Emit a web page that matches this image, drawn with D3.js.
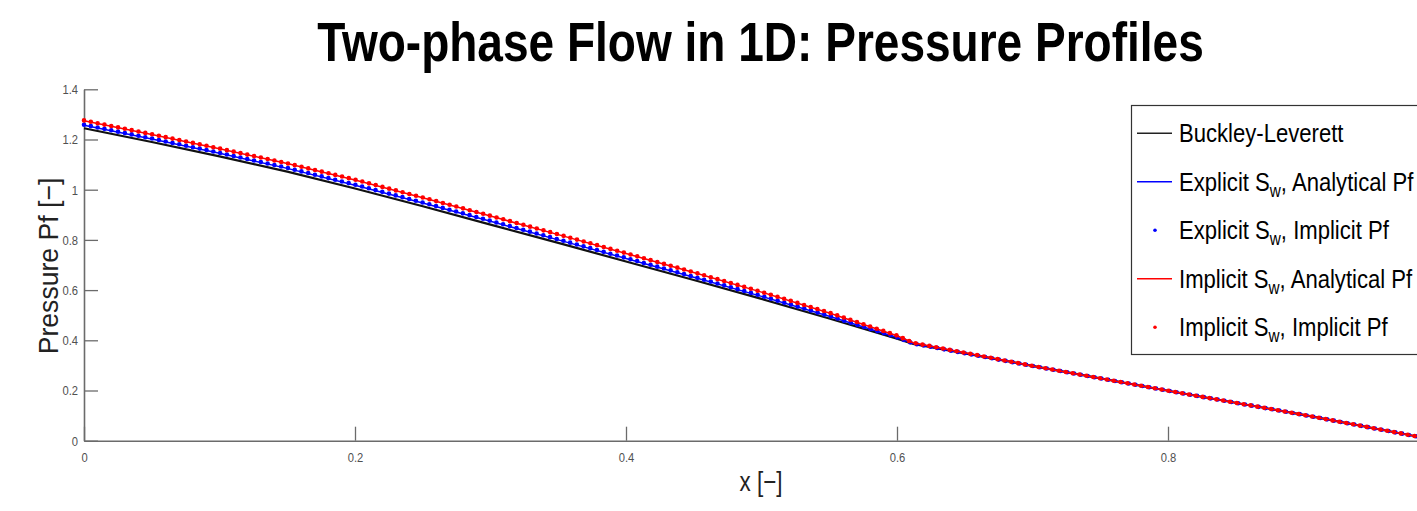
<!DOCTYPE html>
<html><head><meta charset="utf-8">
<script src="https://cdn.jsdelivr.net/npm/d3@7"></script>
<style>body{margin:0;background:#fff;overflow:hidden}</style>
</head><body>
<svg id="c" width="1417" height="511"></svg>
<script>
// ---- data ----
const xValues = [0, 0.05, 0.1, 0.15, 0.2, 0.25, 0.3, 0.35, 0.4, 0.45, 0.5, 0.55, 0.6, 0.612, 0.7, 0.8, 0.9, 1.0];
const buckleyLeverett   = [1.245,1.190,1.133,1.072,1.005,0.934,0.861,0.788,0.714,0.640,0.565,0.487,0.406,0.386,0.298,0.199,0.103,0.0];
const explicitAnalytical= [1.257,1.202,1.145,1.085,1.018,0.947,0.874,0.800,0.726,0.651,0.575,0.496,0.411,0.387,0.298,0.199,0.103,0.0];
const explicitImplicit  = [1.259,1.204,1.147,1.087,1.020,0.949,0.876,0.802,0.728,0.653,0.577,0.497,0.412,0.387,0.298,0.199,0.103,0.0];
const implicitAnalytical= [1.275,1.220,1.163,1.104,1.039,0.968,0.895,0.821,0.746,0.670,0.592,0.509,0.418,0.390,0.298,0.199,0.103,0.0];
const implicitImplicit  = [1.276,1.221,1.164,1.105,1.040,0.969,0.896,0.822,0.747,0.671,0.593,0.510,0.419,0.390,0.298,0.199,0.103,0.0];
const xTicks = [0, 0.2, 0.4, 0.6, 0.8];
const yTicks = [0, 0.2, 0.4, 0.6, 0.8, 1, 1.2, 1.4];
const xTickLabels = ["0", "0.2", "0.4", "0.6", "0.8"];
const yTickLabels = ["0", "0.2", "0.4", "0.6", "0.8", "1", "1.2", "1.4"];
const titleText = "Two-phase Flow in 1D: Pressure Profiles";
const xLabel = "x [\u2212]";
const yLabel = "Pressure Pf [\u2212]";
const legendItems = [
  {main: "Buckley-Leverett", sub: null, rest: null, type: "line", color: "#222"},
  {main: "Explicit S", sub: "w", rest: ", Analytical Pf", type: "line", color: "#0000ff"},
  {main: "Explicit S", sub: "w", rest: ", Implicit Pf", type: "dot", color: "#0000ff"},
  {main: "Implicit S", sub: "w", rest: ", Analytical Pf", type: "line", color: "#ff0000"},
  {main: "Implicit S", sub: "w", rest: ", Implicit Pf", type: "dot", color: "#ff0000"}
];

const FONT = "'Liberation Sans',Arial,Helvetica,sans-serif";
const svg = d3.select("#c");
const x = d3.scaleLinear().domain([0, 1]).range([84, 1439]);
const y = d3.scaleLinear().domain([0, 1.4]).range([440.7, 89.3]);

function narrowText(parent, px, py, sx, size, anchor) {
  return parent.append("text")
    .attr("transform", `translate(${px},${py}) scale(${sx},1)`)
    .attr("text-anchor", anchor).attr("font-family", FONT).attr("font-size", size);
}

// title
narrowText(svg, 760.5, 61, 0.822, 56, "middle").attr("font-weight", "bold").attr("fill", "#000").text(titleText);

// axes
const axColor = "#6b6b6b";
const gx = svg.append("g").attr("transform", `translate(0,${y(0)})`)
  .call(d3.axisBottom(x).tickValues(xTicks).tickSizeInner(-14).tickSizeOuter(0).tickPadding(12)
    .tickFormat((d, i) => xTickLabels[i]));
const gy = svg.append("g").attr("transform", `translate(${x(0)},0)`)
  .call(d3.axisLeft(y).tickValues(yTicks).tickSizeInner(-14).tickSizeOuter(0).tickPadding(6)
    .tickFormat((d, i) => yTickLabels[i]));
[gx, gy].forEach(g => {
  g.select(".domain").attr("stroke", axColor).attr("stroke-width", 1.6);
  g.selectAll(".tick line").attr("stroke", axColor).attr("stroke-width", 1.3);
  g.selectAll(".tick text").attr("font-family", FONT).attr("font-size", 13.5).attr("fill", "#505050");
});
gx.selectAll(".tick text").attr("transform", "scale(0.83,1)");
gy.selectAll(".tick text").attr("x", 0).attr("transform", "translate(-6,0) scale(0.83,1)");

// axis labels
narrowText(svg, 761, 491, 0.8, 28, "middle").attr("fill", "#222").text(xLabel);
svg.append("text").attr("transform", "translate(58,266) rotate(-90) scale(0.95,1)").attr("text-anchor", "middle")
  .attr("font-family", FONT).attr("font-size", 28).attr("fill", "#222").text(yLabel);

// series
const line = vals => d3.line().x((d, i) => x(xValues[i])).y(d => y(d))(vals);
const plot = svg.append("g");
plot.append("path").attr("d", line(buckleyLeverett)).attr("fill", "none").attr("stroke", "#111").attr("stroke-width", 2.2);
plot.append("path").attr("d", line(explicitAnalytical)).attr("fill", "none").attr("stroke", "#0000ff").attr("stroke-width", 1.5);
plot.append("path").attr("d", line(explicitImplicit)).attr("fill", "none").attr("stroke", "#0000ff")
  .attr("stroke-width", 4.6).attr("stroke-linecap", "round").attr("stroke-dasharray", "0 6.95");
plot.append("path").attr("d", line(implicitAnalytical)).attr("fill", "none").attr("stroke", "#ff0000").attr("stroke-width", 1.5);
plot.append("path").attr("d", line(implicitImplicit)).attr("fill", "none").attr("stroke", "#ff0000")
  .attr("stroke-width", 4.6).attr("stroke-linecap", "round").attr("stroke-dasharray", "0 6.95");

// legend
const lg = svg.append("g");
lg.append("rect").attr("x", 1131.5).attr("y", 105.5).attr("width", 400).attr("height", 249)
  .attr("fill", "#fff").attr("stroke", "#333").attr("stroke-width", 1.2);
legendItems.forEach((it, i) => {
  const cy = 133.3 + i * 48.5;
  if (it.type === "line") {
    lg.append("line").attr("x1", 1137).attr("x2", 1172).attr("y1", cy).attr("y2", cy)
      .attr("stroke", it.color).attr("stroke-width", 1.6);
  } else {
    lg.append("circle").attr("cx", 1155).attr("cy", cy).attr("r", 1.8).attr("fill", it.color);
  }
  const t = narrowText(lg, 1179, cy + 9, 0.85, 26, "start").attr("fill", "#000");
  t.append("tspan").text(it.main);
  if (it.sub) {
    t.append("tspan").attr("font-size", 18).attr("dy", 6).text(it.sub);
    t.append("tspan").attr("dy", -6).text(it.rest);
  }
});
</script>
</body></html>
